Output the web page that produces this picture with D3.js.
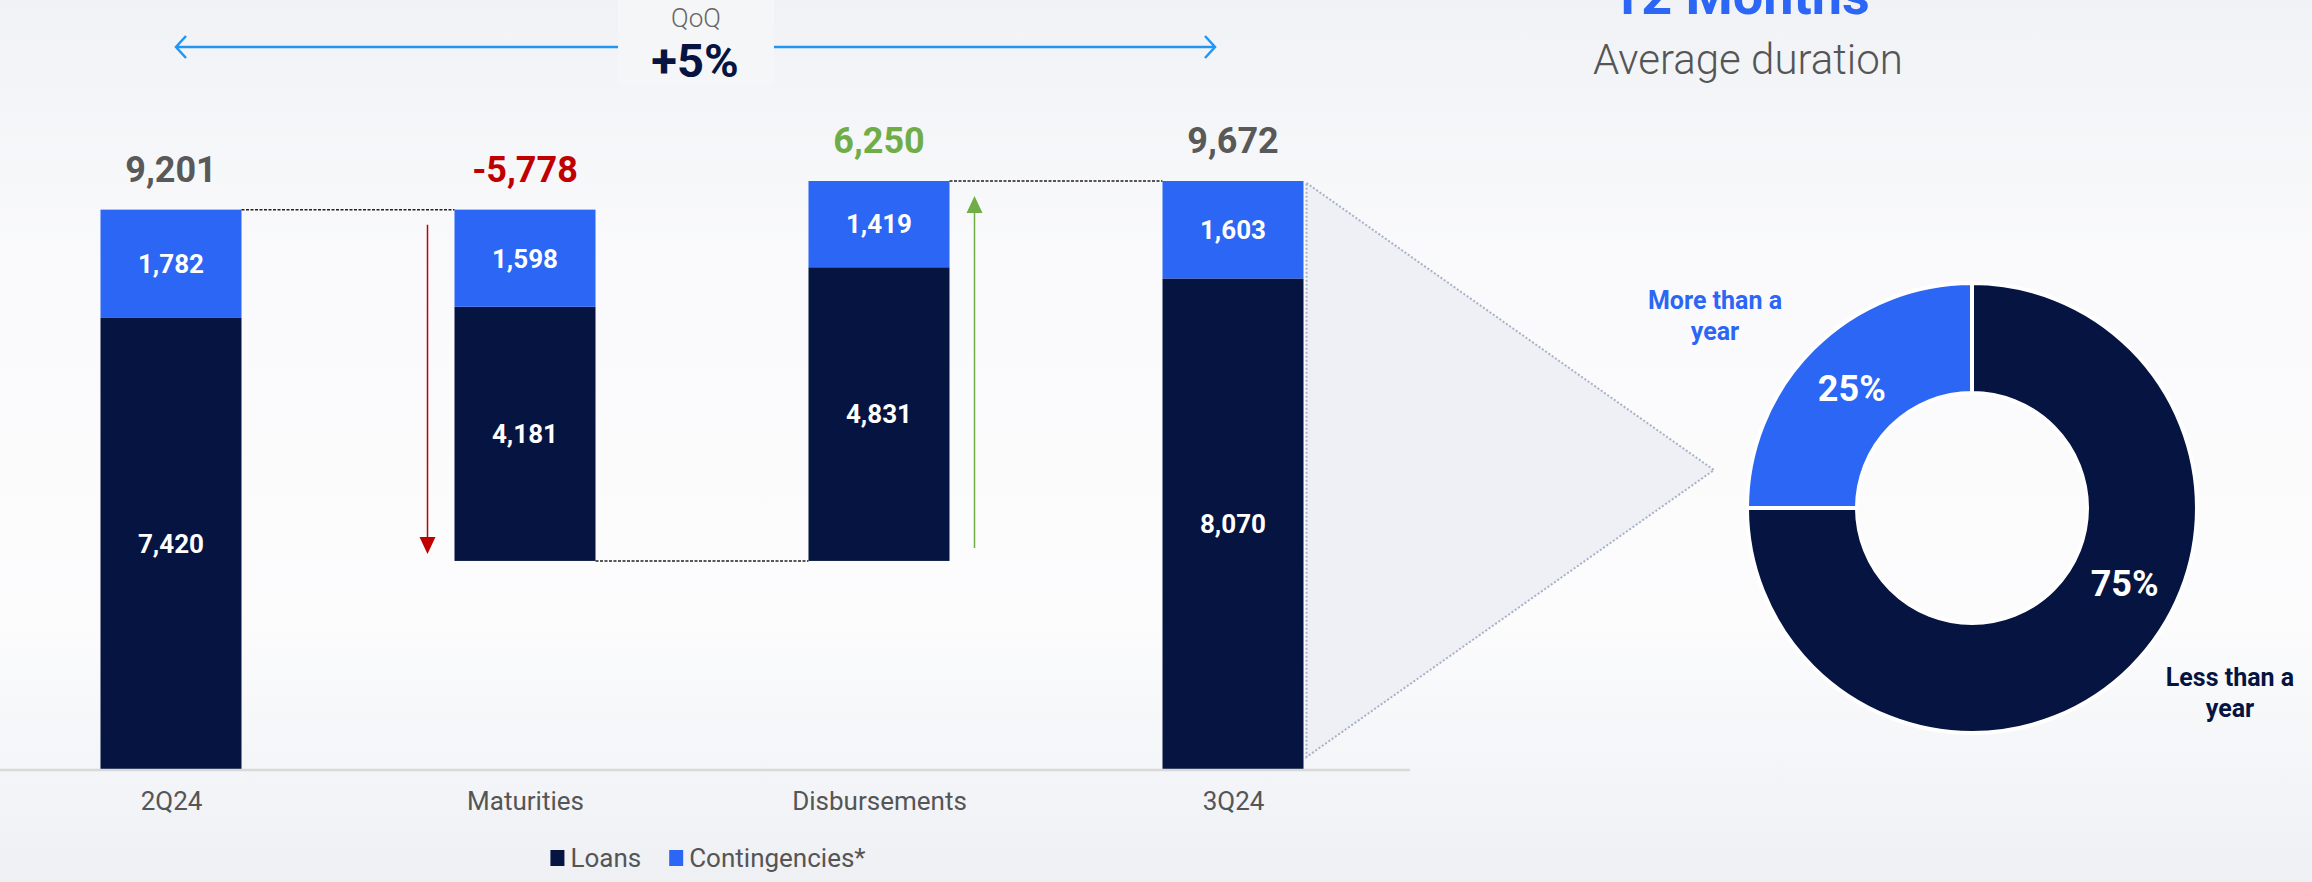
<!DOCTYPE html>
<html>
<head>
<meta charset="utf-8">
<script src="https://cdn.jsdelivr.net/npm/d3@7"></script>
<style>
  html, body { margin: 0; padding: 0; }
  body { width: 2312px; height: 882px; overflow: hidden; font-family: Roboto, "Noto Sans", sans-serif; }
</style>
</head>
<body>
<svg id="chart"></svg>
<script>
// data
const categories = ['2Q24', 'Maturities', 'Disbursements', '3Q24'];
const kinds = ['total', 'delta', 'delta', 'total'];
const loans = [7420, 4181, 4831, 8070];
const contingencies = [1782, 1598, 1419, 1603];
const totals = [9201, -5778, 6250, 9672];
const seriesNames = ['Loans', 'Contingencies*'];
const qoqLabel = 'QoQ';
const qoqValue = '+5%';
const durationTitle = '12 Months';
const durationSub = 'Average duration';
const durationLabels = [['Less than a', 'year'], ['More than a', 'year']];
const durationShares = [75, 25];

const W = 2312, H = 882;
const navy = '#051441', blue = '#2B66F5';
const fmt = v => d3.format(',')(v).replace('\u2212', '-');

const svg = d3.select('#chart').attr('width', W).attr('height', H);

// background
const defs = svg.append('defs');
const grad = defs.append('linearGradient').attr('id', 'bg')
  .attr('x1', 0).attr('y1', 0).attr('x2', 0).attr('y2', 1);
grad.append('stop').attr('offset', '0%').attr('stop-color', '#F0F2F5');
grad.append('stop').attr('offset', '30%').attr('stop-color', '#FAFAFC');
grad.append('stop').attr('offset', '70%').attr('stop-color', '#FCFCFD');
grad.append('stop').attr('offset', '100%').attr('stop-color', '#EEF0F4');
svg.append('rect').attr('width', W).attr('height', H).attr('fill', 'url(#bg)');

// waterfall rows
let running = 0;
const rows = categories.map((c, i) => {
  let base;
  if (kinds[i] === 'total') { base = 0; running = totals[i]; }
  else if (totals[i] < 0) { running += totals[i]; base = running; }
  else { base = running; running += totals[i]; }
  return { cat: c, i: i, kind: kinds[i], base: base, loans: loans[i], cont: contingencies[i],
           total: totals[i], top: base + loans[i] + contingencies[i], level: running };
});

const bw = 141;
const x = d3.scalePoint().domain(categories).range([171, 1233]);
const y = d3.scaleLinear().domain([0, d3.max(rows, r => r.top)]).range([769, 181]);

// callout triangle toward the donut
const cx = 1972, cy = 508, rOut = 225, rIn = 115;
const last = rows[rows.length - 1];
const tx = x(last.cat) + bw / 2 + 3;
const tTop = y(last.top) + 2, tBot = 757;
svg.append('path')
  .attr('d', `M${tx},${tTop} L${cx - rOut - 33},${(tTop + tBot) / 2} L${tx},${tBot} Z`)
  .attr('fill', '#EEF0F5')
  .attr('stroke', '#A7B2C6')
  .attr('stroke-width', 2)
  .attr('stroke-dasharray', '2,2');

// bars
const g = svg.append('g');
g.selectAll('rect.loans').data(rows).join('rect')
  .attr('class', 'loans')
  .attr('x', d => x(d.cat) - bw / 2)
  .attr('width', bw)
  .attr('y', d => y(d.base + d.loans))
  .attr('height', d => y(d.base) - y(d.base + d.loans))
  .attr('fill', navy);
g.selectAll('rect.cont').data(rows).join('rect')
  .attr('class', 'cont')
  .attr('x', d => x(d.cat) - bw / 2)
  .attr('width', bw)
  .attr('y', d => y(d.top))
  .attr('height', d => y(d.base + d.loans) - y(d.top))
  .attr('fill', blue);

// in-bar labels
const inner = svg.append('g').attr('font-weight', 700).attr('font-size', 26)
  .attr('fill', '#fff').attr('text-anchor', 'middle');
inner.selectAll('text.l').data(rows).join('text')
  .attr('x', d => x(d.cat))
  .attr('y', d => (y(d.base) + y(d.base + d.loans)) / 2)
  .attr('dy', '0.36em')
  .text(d => fmt(d.loans));
inner.selectAll('text.c').data(rows).join('text')
  .attr('x', d => x(d.cat))
  .attr('y', d => (y(d.base + d.loans) + y(d.top)) / 2)
  .attr('dy', '0.36em')
  .text(d => fmt(d.cont));

// value labels above the bars
svg.append('g').selectAll('text').data(rows).join('text')
  .attr('x', d => x(d.cat))
  .attr('y', d => y(d.top) - 28)
  .attr('text-anchor', 'middle')
  .attr('font-size', 36)
  .attr('font-weight', 700)
  .attr('fill', d => d.kind === 'total' ? '#595959' : (d.total < 0 ? '#C00000' : '#70AD47'))
  .text(d => fmt(d.total));

// dashed connectors
svg.append('g').selectAll('line').data(rows.slice(0, -1)).join('line')
  .attr('x1', d => x(d.cat) + bw / 2)
  .attr('x2', d => x(categories[d.i + 1]) - bw / 2)
  .attr('y1', d => y(d.level))
  .attr('y2', d => y(d.level))
  .attr('stroke', '#222')
  .attr('stroke-width', 1.5)
  .attr('stroke-dasharray', '3,1.5');

// up / down arrows next to the delta bars
rows.filter(d => d.kind === 'delta').forEach(d => {
  const down = d.total < 0;
  const col = down ? '#C00000' : '#70AD47';
  const ax = down ? x(d.cat) - bw / 2 - 27 : x(d.cat) + bw / 2 + 25;
  const yTop = y(d.top) + 15, yBot = y(d.base) - (down ? 7 : 13);
  const tip = down ? yBot : yTop;
  const tail = down ? yTop : yBot;
  const dir = down ? 1 : -1;
  svg.append('line')
    .attr('x1', ax).attr('x2', ax)
    .attr('y1', tail).attr('y2', tip - dir * 14)
    .attr('stroke', col).attr('stroke-width', 1.5);
  svg.append('path')
    .attr('d', `M${ax - 8},${tip - dir * 17} L${ax + 8},${tip - dir * 17} L${ax},${tip} Z`)
    .attr('fill', col);
});

// axis
svg.append('line')
  .attr('x1', 0).attr('x2', 1410).attr('y1', 770).attr('y2', 770)
  .attr('stroke', '#D9D9D9').attr('stroke-width', 2.5);
const axis = svg.append('g').attr('transform', 'translate(0,770)')
  .call(d3.axisBottom(x).tickSize(0).tickPadding(22));
axis.select('.domain').remove();
axis.selectAll('text')
  .attr('font-family', 'Roboto, sans-serif')
  .attr('font-size', 26)
  .attr('fill', '#555');

// legend
const legend = svg.append('g').attr('font-size', 26).attr('fill', '#555');
const legColors = [navy, blue];
let lx = 0;
seriesNames.forEach((n, i) => {
  const it = legend.append('g');
  it.append('rect').attr('x', 0).attr('y', -8).attr('width', 14).attr('height', 16).attr('fill', legColors[i]);
  const t = it.append('text').attr('x', 20).attr('dy', '0.36em').text(n);
  const w = 20 + t.node().getComputedTextLength();
  it.attr('transform', `translate(${lx},858)`);
  lx += w + 28;
});
const legW = lx - 28;
legend.attr('transform', `translate(${708 - legW / 2},0)`);

// QoQ annotation
const qy = 47;
svg.append('rect').attr('x', 618).attr('y', 0).attr('width', 156).attr('height', 85).attr('fill', '#F5F6F8');
const arrowCol = '#2196F3';
svg.append('line').attr('x1', 176).attr('x2', 618).attr('y1', qy).attr('y2', qy)
  .attr('stroke', arrowCol).attr('stroke-width', 2.5);
svg.append('line').attr('x1', 774).attr('x2', 1215).attr('y1', qy).attr('y2', qy)
  .attr('stroke', arrowCol).attr('stroke-width', 2.5);
svg.append('path').attr('d', `M${186},${qy - 11} L176,${qy} L${186},${qy + 11}`)
  .attr('fill', 'none').attr('stroke', arrowCol).attr('stroke-width', 2.5);
svg.append('path').attr('d', `M${1205},${qy - 11} L1215,${qy} L${1205},${qy + 11}`)
  .attr('fill', 'none').attr('stroke', arrowCol).attr('stroke-width', 2.5);
svg.append('text').attr('x', 696).attr('y', 27).attr('text-anchor', 'middle')
  .attr('font-size', 26).attr('font-weight', 300).attr('fill', '#666').text(qoqLabel);
svg.append('text').attr('x', 695).attr('y', 77).attr('text-anchor', 'middle')
  .attr('font-size', 47).attr('font-weight', 700).attr('fill', navy).text(qoqValue);

// duration header
svg.append('text').attr('x', 1740).attr('y', 14).attr('text-anchor', 'middle')
  .attr('font-size', 54).attr('font-weight', 700).attr('fill', blue).text(durationTitle);
svg.append('text').attr('x', 1748).attr('y', 74).attr('text-anchor', 'middle')
  .attr('font-size', 42).attr('font-weight', 300).attr('fill', '#555').text(durationSub);

// donut
const pie = d3.pie().sort(null).value(d => d);
const arcs = pie(durationShares);
const arc = d3.arc().innerRadius(rIn).outerRadius(rOut);
const donut = svg.append('g').attr('transform', `translate(${cx},${cy})`);
donut.selectAll('path').data(arcs).join('path')
  .attr('d', arc)
  .attr('fill', (d, i) => i === 0 ? navy : blue)
  .attr('stroke', '#fff')
  .attr('stroke-width', 4);

const labelAt = [0.43, 0.5];
const rLab = (rIn + rOut) / 2;
donut.selectAll('text.pct').data(arcs).join('text')
  .attr('class', 'pct')
  .attr('x', (d, i) => rLab * Math.sin(d.startAngle + (d.endAngle - d.startAngle) * labelAt[i]))
  .attr('y', (d, i) => -rLab * Math.cos(d.startAngle + (d.endAngle - d.startAngle) * labelAt[i]))
  .attr('dy', '0.36em')
  .attr('text-anchor', 'middle')
  .attr('font-size', 36)
  .attr('font-weight', 700)
  .attr('fill', '#fff')
  .text(d => d.data + '%');

// outer labels
const outerPos = [[258, 184], [-257, -193]];
durationLabels.forEach((lines, i) => {
  const t = donut.append('text')
    .attr('text-anchor', 'middle')
    .attr('font-size', 25)
    .attr('font-weight', 700)
    .attr('fill', i === 0 ? navy : blue);
  lines.forEach((ln, k) => {
    t.append('tspan')
      .attr('x', outerPos[i][0])
      .attr('y', outerPos[i][1] + (k - 0.5) * 31)
      .attr('dy', '0.36em')
      .text(ln);
  });
});
</script>
</body>
</html>
